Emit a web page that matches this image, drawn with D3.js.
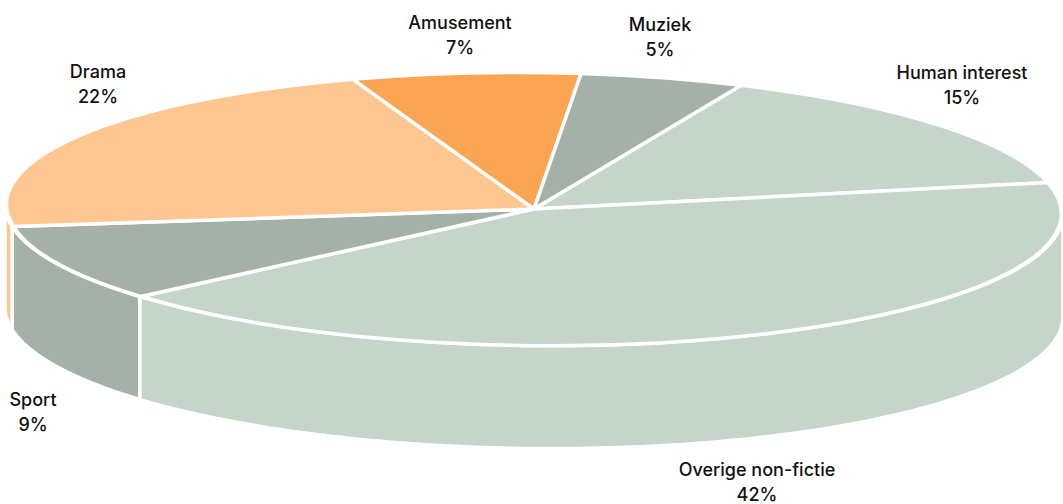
<!DOCTYPE html>
<html><head><meta charset="utf-8">
<script src="https://cdn.jsdelivr.net/npm/d3@7"></script>
<style>html,body{margin:0;padding:0;background:#fff}svg{display:block}</style>
</head><body>
<svg id="c" width="1063" height="504"></svg>
<script>
const categories = ["Human interest","Overige non-fictie","Sport","Drama","Amusement","Muziek"];
const values = [14.9,42,9,22,7,5];
const colors = ["#C6D5CA","#C6D5CA","#A5B1A8","#FEC690","#FAA551","#A5B1A8"];
const labelAnchors = [[962,73],[757,470],[33,400],[98,72],[460,23],[660,25]];

const cx=534, cy=209, rx=527.5, ry=136.5, depth=103, tilt=0.55, wallRx=rx+1.5;
const th=tilt*Math.PI/180;
const svg=d3.select("#c");
const start=23.0*Math.PI/180;
const pie=d3.pie().sort(null).startAngle(start).endAngle(start+2*Math.PI);
const arcs=pie(values);
const px=a=>{const x=wallRx*Math.sin(a),y=-ry*Math.cos(a);return cx+x*Math.cos(th)-y*Math.sin(th);};
const py=a=>{const x=wallRx*Math.sin(a),y=-ry*Math.cos(a);return cy+x*Math.sin(th)+y*Math.cos(th);};

const frontA=Math.PI/2, frontB=3*Math.PI/2;
const wallLine=d3.line();
arcs.forEach((d,i)=>{
  const a0=Math.max(d.startAngle,frontA), a1=Math.min(d.endAngle,frontB);
  if(a1<=a0) return;
  const ang=d3.range(0,121).map(k=>a0+(a1-a0)*k/120);
  const pts=ang.map(a=>[px(a),py(a)]).concat(ang.slice().reverse().map(a=>[px(a),py(a)+depth]));
  svg.append("path").attr("d",wallLine(pts)+"Z").attr("fill",colors[i])
     .attr("stroke","#fff").attr("stroke-width",3.5).attr("stroke-linejoin","round");
});

const arc=d3.arc().innerRadius(0).outerRadius(rx);
const g=svg.append("g").attr("transform",`translate(${cx},${cy}) rotate(${tilt}) scale(1,${ry/rx})`);
g.selectAll("path").data(arcs).join("path")
 .attr("d",arc).attr("fill",(d,i)=>colors[i])
 .attr("stroke","#fff").attr("stroke-width",3.5).attr("stroke-linejoin","round")
 .attr("vector-effect","non-scaling-stroke");

const t=svg.append("g").attr("font-family","Inter, sans-serif").attr("font-size",18).attr("font-weight",500).attr("fill","#111").attr("text-anchor","middle");
categories.forEach((c,i)=>{
  const [x,y]=labelAnchors[i];
  t.append("text").attr("x",x).attr("y",y+6).text(c);
  t.append("text").attr("x",x).attr("y",y+31).text(Math.round(values[i])+"%");
});
</script>
</body></html>
